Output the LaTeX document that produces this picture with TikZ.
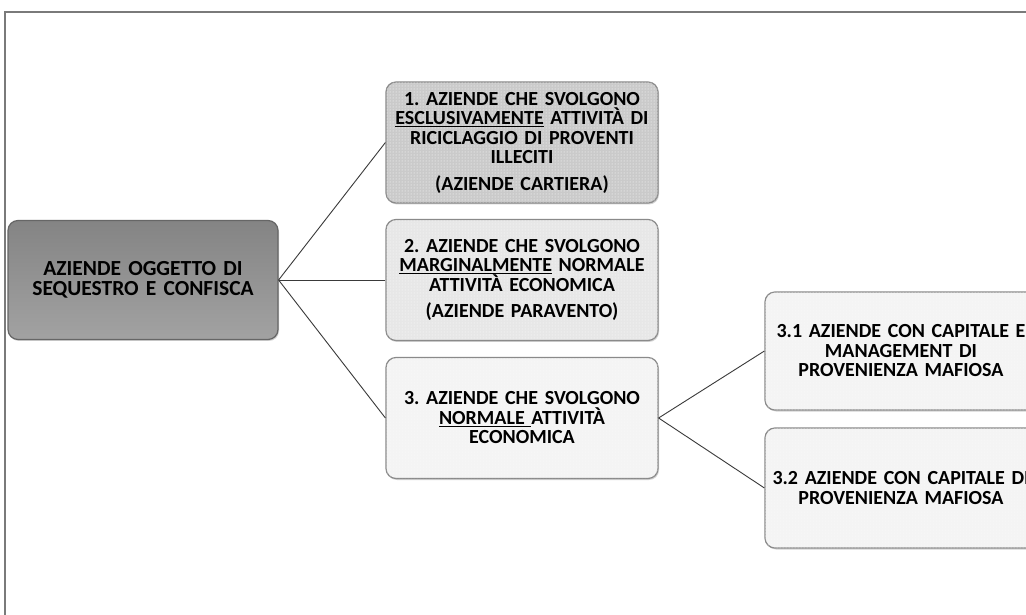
\documentclass[tikz,border=0pt]{standalone}
\usepackage{fontspec}
\setmainfont{Carlito}[WordSpace=0.85]
\usetikzlibrary{patterns,shadows}
\definecolor{frameC}{HTML}{7A7A7A}
\definecolor{edgeC}{HTML}{8A8A8A}
\definecolor{rootTop}{HTML}{848484}
\definecolor{rootBot}{HTML}{A2A2A2}
\definecolor{fillA}{HTML}{CACACA}
\definecolor{fillB}{HTML}{E7E7E7}
\definecolor{fillC}{HTML}{F4F4F4}
\definecolor{lineC}{HTML}{3A3A3A}
\tikzset{
  box/.style={rectangle, rounded corners=10pt, draw=edgeC, line width=1.2pt,
    minimum width=272pt, minimum height=121pt, text width=268pt, align=center,
    font=\fontsize{20}{19.5}\selectfont\bfseries\frenchspacing, inner sep=0pt,
    drop shadow={shadow xshift=1pt, shadow yshift=-1.5pt, opacity=0.35}},
  dotted fill/.style={postaction={pattern=dots, pattern color=white}},
  conn/.style={draw=lineC, line width=0.9pt},
}
\begin{document}
\begin{tikzpicture}[x=1pt,y=1pt]
\path[use as bounding box, clip] (0,0) rectangle (1026,614);
\fill[white] (0,0) rectangle (1026,614);
% frame
\draw[frameC, line width=2pt] (5,-5) -- (5,602) -- (1030,602);
% nodes (y = 614 - ypx)
\node[box, draw=gray!80!black, top color=rootTop, bottom color=rootBot, minimum width=270pt, minimum height=119pt, text width=260pt, font=\fontsize{21.5}{20.5}\selectfont\bfseries] (root) at (143,334) {AZIENDE OGGETTO DI\\SEQUESTRO E CONFISCA};
\node[box, fill=fillA, dotted fill] (b1) at (522,471.5) {1. AZIENDE CHE SVOLGONO\\\underline{ESCLUSIVAMENTE} ATTIVITÀ DI\\RICICLAGGIO DI PROVENTI\\ILLECITI\\[7pt](AZIENDE CARTIERA)};
\node[box, fill=fillB, dotted fill] (b2) at (522,334) {2. AZIENDE CHE SVOLGONO\\\underline{MARGINALMENTE} NORMALE\\ATTIVITÀ ECONOMICA\\[7pt](AZIENDE PARAVENTO)};
\node[box, fill=fillC, dotted fill] (b3) at (522,196) {3. AZIENDE CHE SVOLGONO\\\underline{NORMALE }ATTIVITÀ\\ECONOMICA};
\node[box, fill=fillC, dotted fill, minimum height=118pt] (b31) at (901,263) {3.1 AZIENDE CON CAPITALE E\\MANAGEMENT DI\\PROVENIENZA MAFIOSA};
\node[box, fill=fillC, dotted fill, minimum height=120pt] (b32) at (901,126) {3.2 AZIENDE CON CAPITALE DI\\PROVENIENZA MAFIOSA};
% connectors
\draw[conn] (root.east) -- (b1.west);
\draw[conn] (root.east) -- (b2.west);
\draw[conn] (root.east) -- (b3.west);
\draw[conn] (b3.east) -- (b31.west);
\draw[conn] (b3.east) -- (b32.west);
\end{tikzpicture}
\end{document}
